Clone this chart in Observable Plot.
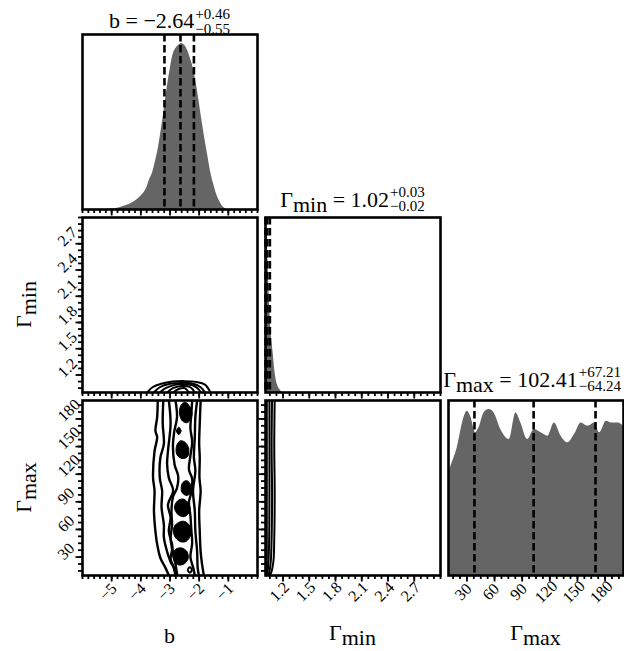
<!DOCTYPE html>
<html><head><meta charset="utf-8">
<script src="https://cdn.jsdelivr.net/npm/d3@7"></script>
<script src="https://cdn.jsdelivr.net/npm/@observablehq/plot@0.6"></script>
<style>
html,body{margin:0;padding:0;background:#fff;}
#fig{position:relative;width:624px;height:651px;overflow:hidden;}
</style></head><body><div id="fig"></div>
<script>
// ---------------- data ----------------
const bDomain = [-6, 0];
const gminDomain = [1, 3];
const gmaxDomain = [10, 200];

const bTicks = [-5, -4, -3, -2, -1];
const bTickLabels = ["−5", "−4", "−3", "−2", "−1"];
const gminTicks = [1.2, 1.5, 1.8, 2.1, 2.4, 2.7];
const gminTickLabels = ["1.2", "1.5", "1.8", "2.1", "2.4", "2.7"];
const gmaxTicks = [30, 60, 90, 120, 150, 180];
const gmaxTickLabels = ["30", "60", "90", "120", "150", "180"];

const bQuantiles = [-3.19, -2.64, -2.18];
const gminQuantiles = [1.00, 1.02, 1.05];
const gmaxQuantiles = [38.17, 102.41, 169.62];

// 1D marginal densities (relative)
const bGrid = [-5.2,-5.0,-4.8,-4.6,-4.4,-4.2,-4.0,-3.9,-3.8,-3.7,-3.6,-3.5,-3.4,-3.3,-3.2,-3.1,-3.0,-2.9,-2.8,-2.7,-2.6,-2.5,-2.4,-2.3,-2.2,-2.1,-2.0,-1.9,-1.8,-1.7,-1.6,-1.5,-1.4,-1.3,-1.2,-1.1,-1.0];
const bDensity = [0,0.003,0.008,0.018,0.03,0.05,0.08,0.10,0.13,0.18,0.22,0.29,0.37,0.48,0.60,0.73,0.84,0.93,0.97,0.99,1.0,0.99,0.96,0.91,0.85,0.76,0.65,0.53,0.42,0.32,0.22,0.15,0.09,0.05,0.02,0.005,0];

const gminGrid = [1.0,1.01,1.02,1.03,1.04,1.05,1.06,1.07,1.08,1.09,1.10,1.12,1.14,1.16,1.18,1.20];
const gminDensity = [1.0,0.98,0.9,0.75,0.6,0.48,0.38,0.32,0.27,0.22,0.16,0.08,0.04,0.02,0.006,0];

const gmaxGrid = [10,12.2,19.5,26.7,30.4,34,39.5,43.1,48.6,54,59.5,66.8,75.9,83.2,88.6,95.9,103.2,110.5,117.8,125,132.3,139.6,146.8,154.1,161.4,168.7,174.1,181.4,186.9,194.2,200];
const gmaxDensity = [0.61,0.65,0.77,0.95,0.99,0.96,0.86,0.89,0.98,1.0,0.98,0.88,0.82,0.98,0.92,0.82,0.88,0.86,0.84,0.92,0.84,0.80,0.85,0.92,0.90,0.92,0.86,0.93,0.92,0.92,0.90];

// 2D contours: b vs Γmin
const bGminContours = [
  [[-3.78,1.0],[-3.6,1.06],[-3.3,1.10],[-2.9,1.125],[-2.5,1.13],[-2.1,1.12],[-1.8,1.09],[-1.61,1.0]],
  [[-3.55,1.0],[-3.35,1.06],[-3.0,1.10],[-2.6,1.11],[-2.2,1.10],[-1.95,1.06],[-1.8,1.0]],
  [[-3.35,1.0],[-3.15,1.05],[-2.8,1.09],[-2.5,1.095],[-2.2,1.08],[-2.0,1.03],[-1.95,1.0]],
  [[-3.1,1.0],[-2.9,1.05],[-2.6,1.075],[-2.3,1.06],[-2.15,1.0]],
  [[-2.9,1.0],[-2.7,1.04],[-2.5,1.05],[-2.35,1.0]]
];

// 2D contours: b vs Γmax
const bGmaxContours = [
  [[-3.42,200],[-3.44,182],[-3.50,167],[-3.44,160],[-3.53,145],[-3.58,116],[-3.53,102],[-3.55,80],[-3.50,58],[-3.44,44],[-3.33,29],[-3.15,18],[-3.04,10]],
  [[-3.23,200],[-3.25,175],[-3.21,153],[-3.33,138],[-3.35,116],[-3.27,102],[-3.29,84],[-3.21,65],[-3.21,51],[-3.10,36],[-2.98,25],[-2.87,18],[-2.81,10]],
  [[-3.04,200],[-2.98,175],[-3.07,145],[-3.10,131],[-3.04,116],[-2.89,102],[-3.07,87],[-2.98,73],[-3.04,58],[-2.93,44],[-2.89,33],[-2.81,22],[-2.75,10]],
  [[-2.81,200],[-2.76,182],[-2.86,165],[-2.90,150],[-2.84,130],[-2.72,118],[-2.76,105],[-2.90,95],[-2.95,80],[-2.93,65],[-2.98,50],[-2.93,38],[-2.98,28],[-2.86,18],[-2.80,10]],
  [[-2.24,200],[-2.27,185],[-2.30,170],[-2.24,155],[-2.30,140],[-2.35,125],[-2.24,115],[-2.27,100],[-2.35,90],[-2.30,75],[-2.27,60],[-2.24,45],[-2.30,30],[-2.20,18],[-2.15,10]],
  [[-2.07,200],[-2.13,182],[-2.15,160],[-2.18,138],[-2.13,124],[-2.21,102],[-2.15,80],[-2.13,58],[-2.07,36],[-2.05,18],[-2.01,10]],
  [[-1.95,200],[-1.98,175],[-2.00,153],[-1.98,138],[-1.99,116],[-1.95,102],[-2.00,80],[-1.98,58],[-1.95,36],[-1.90,22],[-1.84,10]]
];
const bGmaxBlobs = [
  [[-2.47,198],[-2.30,192],[-2.25,184],[-2.40,176],[-2.58,178],[-2.68,188],[-2.60,196]],
  [[-2.70,171],[-2.62,167],[-2.70,163],[-2.78,167]],
  [[-2.50,155],[-2.36,148],[-2.40,139],[-2.58,137],[-2.76,141],[-2.78,150],[-2.66,156]],
  [[-2.43,113],[-2.26,107],[-2.30,99],[-2.45,97],[-2.60,101],[-2.58,110]],
  [[-2.55,93],[-2.36,88],[-2.32,80],[-2.50,74],[-2.72,76],[-2.85,84],[-2.74,91]],
  [[-2.55,69],[-2.32,64],[-2.28,55],[-2.45,47],[-2.66,47],[-2.86,54],[-2.84,64]],
  [[-2.62,40],[-2.42,36],[-2.38,28],[-2.55,22],[-2.75,22],[-2.90,30],[-2.82,38]]
];
const bGmaxRings = [
  [[-2.32,19],[-2.25,16],[-2.32,13],[-2.39,16]]
];

// 2D contours: Γmin vs Γmax
const gminGmaxContours = [
  [[1.105,200],[1.10,150],[1.105,100],[1.10,50],[1.09,25],[1.06,12],[1.04,10]],
  [[1.075,200],[1.07,150],[1.075,100],[1.07,50],[1.06,25],[1.045,14],[1.035,10]],
  [[1.045,200],[1.045,100],[1.04,40],[1.03,20],[1.02,10]],
  [[1.015,200],[1.015,10]]
];

// titles
const bTitle = {main: [["b = −2.64", 0]], sup: "+0.46", sub: "−0.55"};
const gminTitle = {main: [["Γ", 0], ["min", 5], [" = 1.02", -5]], sup: "+0.03", sub: "−0.02"};
const gmaxTitle = {main: [["Γ", 0], ["max", 5], [" = 102.41", -5]], sup: "+67.21", sub: "−64.24"};

// ---------------- drawing ----------------
const fontFam = '"Liberation Serif", "DejaVu Serif", serif';
const fig = document.getElementById("fig");
const cols = [82, 265, 448];
const rows = [34, 217, 400];
const S = 175;

function minorTicks(domain, major0, step) {
  const out = [];
  let v = major0 - Math.floor((major0 - domain[0]) / step + 1e-9) * step;
  for (; v <= domain[1] + 1e-9; v += step) out.push(+v.toFixed(6));
  return out;
}
function toRows(list) {
  return list.flatMap((pts, id) => pts.map(([x, y]) => ({x, y, id})));
}

function panel(o) {
  const ml = 45, mr = 5, mt = 5, mb = 45;
  const m = [...o.marks];
  m.push(Plot.frame({stroke: "black", strokeWidth: 2.6}));
  m.push(Plot.axisX({ticks: minorTicks(o.xDomain, o.xTicks[0], o.xMinor), anchor: "bottom", tickSize: 4, tickFormat: () => "", label: null, strokeWidth: 1.8}));
  m.push(Plot.axisX({ticks: o.xTicks, anchor: "bottom", tickSize: 6.5, tickFormat: () => "", label: null, strokeWidth: 1.8}));
  if (o.xLabels) m.push(Plot.text(o.xTicks, {x: d => d, text: (d, i) => o.xLabels[i], frameAnchor: "bottom", dy: 20, rotate: -45, fontSize: 16, fill: "black"}));
  if (o.yTicks) {
    m.push(Plot.axisY({ticks: minorTicks(o.yDomain, o.yTicks[0], o.yMinor), anchor: "left", tickSize: 4, tickFormat: () => "", label: null, strokeWidth: 1.8}));
    m.push(Plot.axisY({ticks: o.yTicks, anchor: "left", tickSize: 6.5, tickFormat: () => "", label: null, strokeWidth: 1.8}));
    if (o.yLabels) m.push(Plot.text(o.yTicks, {y: d => d, text: (d, i) => o.yLabels[i], frameAnchor: "left", dx: -22, rotate: -45, fontSize: 16, fill: "black"}));
  }
  const svg = Plot.plot({
    width: S + ml + mr, height: S + mt + mb,
    marginLeft: ml, marginRight: mr, marginTop: mt, marginBottom: mb,
    x: {domain: o.xDomain, axis: null},
    y: {domain: o.yDomain, axis: null},
    style: {background: "transparent", overflow: "visible", fontFamily: fontFam, fontSize: "16px", color: "black"},
    marks: m
  });
  svg.style.position = "absolute";
  svg.style.left = (cols[o.c] - ml) + "px";
  svg.style.top = (rows[o.r] - mt) + "px";
  fig.appendChild(svg);
}

const histFill = "#656565";
const dash = {stroke: "black", strokeWidth: 2.6, strokeDasharray: "7.5,3.5"};
const lineStyle = {x: "x", y: "y", z: "id", stroke: "black", strokeWidth: 2.4, curve: "catmull-rom", clip: true};

// (0,0) b histogram
panel({c: 0, r: 0, xDomain: bDomain, yDomain: [0, 1.055], xTicks: bTicks, xMinor: 0.2,
  marks: [
    Plot.areaY(bGrid.map((x, i) => ({x, y: bDensity[i]})), {x: "x", y: "y", fill: histFill, curve: "monotone-x", clip: true}),
    Plot.ruleX(bQuantiles, dash)
  ]});
// (1,0) b vs Γmin
panel({c: 0, r: 1, xDomain: bDomain, yDomain: gminDomain, xTicks: bTicks, xMinor: 0.2,
  yTicks: gminTicks, yLabels: gminTickLabels, yMinor: 0.075,
  marks: [Plot.line(toRows(bGminContours), {...lineStyle, strokeWidth: 2})]});
// (1,1) Γmin histogram
panel({c: 1, r: 1, xDomain: gminDomain, yDomain: [0, 1.03], xTicks: gminTicks, xMinor: 0.075,
  marks: [
    Plot.areaY(gminGrid.map((x, i) => ({x, y: gminDensity[i]})), {x: "x", y: "y", fill: histFill, curve: "monotone-x", clip: true}),
    Plot.ruleX(gminQuantiles, dash)
  ]});
// (2,0) b vs Γmax
panel({c: 0, r: 2, xDomain: bDomain, yDomain: gmaxDomain, xTicks: bTicks, xLabels: bTickLabels, xMinor: 0.2,
  yTicks: gmaxTicks, yLabels: gmaxTickLabels, yMinor: 7.5,
  marks: [
    Plot.line(toRows(bGmaxContours), lineStyle),
    Plot.line(toRows(bGmaxBlobs), {x: "x", y: "y", z: "id", fill: "black", stroke: "black", strokeWidth: 1, curve: "catmull-rom-closed", clip: true}),
    Plot.line(toRows(bGmaxRings), {x: "x", y: "y", z: "id", stroke: "black", strokeWidth: 2, curve: "catmull-rom-closed", clip: true})
  ]});
// (2,1) Γmin vs Γmax
panel({c: 1, r: 2, xDomain: gminDomain, yDomain: gmaxDomain, xTicks: gminTicks, xLabels: gminTickLabels, xMinor: 0.075,
  yTicks: gmaxTicks, yMinor: 7.5,
  marks: [Plot.line(toRows(gminGmaxContours), {...lineStyle, strokeWidth: 2})]});
// (2,2) Γmax histogram
panel({c: 2, r: 2, xDomain: gmaxDomain, yDomain: [0, 1.055], xTicks: gmaxTicks, xLabels: gmaxTickLabels, xMinor: 7.5,
  marks: [
    Plot.areaY(gmaxGrid.map((x, i) => ({x, y: gmaxDensity[i]})), {x: "x", y: "y", fill: histFill, curve: "monotone-x", clip: true}),
    Plot.ruleX(gmaxQuantiles, dash)
  ]});

// ---------------- text overlay ----------------
const ov = d3.select(fig).append("svg")
  .attr("width", 624).attr("height", 651)
  .style("position", "absolute").style("left", "0px").style("top", "0px")
  .style("overflow", "visible")
  .attr("font-family", fontFam).attr("fill", "black");

function mathTitle(cx, y, t, supDy, subDy) {
  const g = ov.append("g");
  const main = g.append("text").attr("y", y).attr("font-size", 22).style("white-space", "pre");
  t.main.forEach(([s, dy]) => main.append("tspan").attr("dy", dy).text(s));
  const w = main.node().getComputedTextLength();
  const sp = g.append("text").attr("y", y + supDy).attr("font-size", 15).text(t.sup);
  const sb = g.append("text").attr("y", y + subDy).attr("font-size", 15).text(t.sub);
  const ws = Math.max(sp.node().getComputedTextLength(), sb.node().getComputedTextLength());
  let x0 = cx - (w + 1 + ws) / 2;
  if (x0 + w + 1 + ws > 621) x0 = 621 - (w + 1 + ws);
  main.attr("x", x0); sp.attr("x", x0 + w + 1); sb.attr("x", x0 + w + 1);
}
mathTitle(cols[0] + S / 2, 28, bTitle, -9, 6);
mathTitle(cols[1] + S / 2, 207, gminTitle, -10, 4);
mathTitle(cols[2] + S / 2, 387, gmaxTitle, -10, 4);

function axisLabel(x, y, parts, rotate) {
  const t = ov.append("text").attr("text-anchor", "middle").attr("font-size", 22)
    .attr("transform", `translate(${x},${y}) rotate(${rotate})`).style("white-space", "pre");
  parts.forEach(([s, dy]) => t.append("tspan").attr("dy", dy).text(s));
}
axisLabel(cols[0] + S / 2, 643, [["b", 0]], 0);
axisLabel(cols[1] + S / 2, 640, [["Γ", 0], ["min", 5]], 0);
axisLabel(cols[2] + S / 2, 640, [["Γ", 0], ["max", 5]], 0);
axisLabel(31, rows[1] + S / 2, [["Γ", 0], ["min", 5]], -90);
axisLabel(31, rows[2] + S / 2, [["Γ", 0], ["max", 5]], -90);
</script></body></html>
